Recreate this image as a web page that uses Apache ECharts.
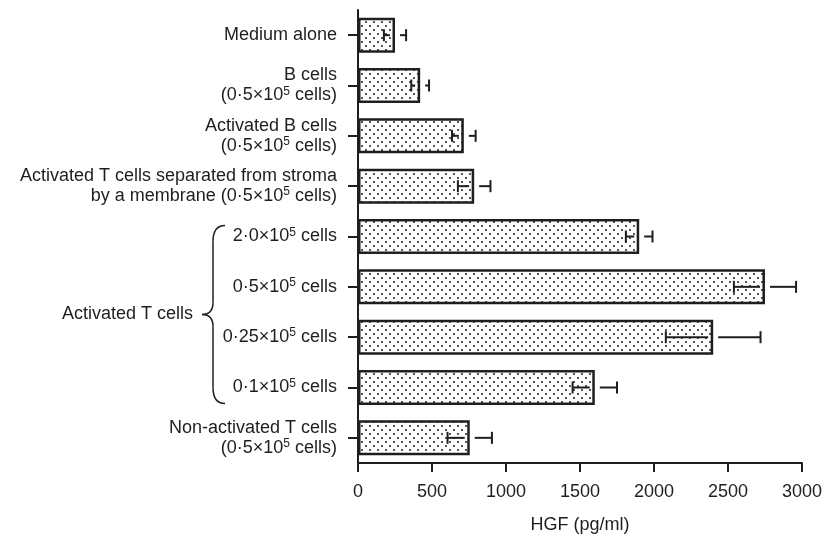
<!DOCTYPE html>
<html>
<head>
<meta charset="utf-8">
<script src="https://cdn.jsdelivr.net/npm/echarts@6/dist/echarts.min.js"></script>
<style>html,body{margin:0;padding:0;background:#fff;}#c{width:825px;height:539px;}</style>
</head>
<body>
<div id="c"></div>
<script>
const categories = [
  'Medium alone',
  'B cells\n(0·5×10{sup|5} cells)',
  'Activated B cells\n(0·5×10{sup|5} cells)',
  'Activated T cells separated from stroma\nby a membrane (0·5×10{sup|5} cells)',
  '2·0×10{sup|5} cells',
  '0·5×10{sup|5} cells',
  '0·25×10{sup|5} cells',
  '0·1×10{sup|5} cells',
  'Non-activated T cells\n(0·5×10{sup|5} cells)'
];
const hgfMean = [250, 420, 715, 785, 1900, 2750, 2400, 1600, 755];
const hgfErr  = [75, 60, 80, 110, 90, 210, 320, 150, 150];
const xTicks = { min: 0, max: 3000, interval: 500 };
const groupLabel = 'Activated T cells';
const groupFirst = 4, groupLast = 7;

// dotted pattern
const tile = document.createElement('canvas');
tile.width = 8; tile.height = 8;
const tctx = tile.getContext('2d');
tctx.fillStyle = '#ffffff';
tctx.fillRect(0, 0, 8, 8);
tctx.fillStyle = '#1e1e1e';
tctx.beginPath(); tctx.arc(2, 2, 1.0, 0, Math.PI * 2); tctx.fill();
tctx.beginPath(); tctx.arc(6, 6, 1.0, 0, Math.PI * 2); tctx.fill();

const ink = '#1e1e1e';
const chart = echarts.init(document.getElementById('c'));
const errData = hgfMean.map((v, i) => [i, v, hgfErr[i]]);

chart.setOption({
  animation: false,
  backgroundColor: '#fff',
  grid: { left: 358, right: 20, top: 10, bottom: 71 },
  xAxis: {
    type: 'value', min: xTicks.min, max: xTicks.max, interval: xTicks.interval,
    name: 'HGF (pg/ml)', nameLocation: 'middle', nameGap: 53,
    nameTextStyle: { fontFamily: 'Liberation Sans', fontSize: 18, color: ink },
    axisLine: { show: true, lineStyle: { color: ink, width: 2 } },
    axisTick: { show: true, length: 9, lineStyle: { color: ink, width: 2 } },
    axisLabel: { fontFamily: 'Liberation Sans', fontSize: 18, color: ink, margin: 20,
      formatter: function (v) { return String(v); } },
    splitLine: { show: false }
  },
  yAxis: {
    type: 'category', data: categories, inverse: true,
    axisLine: { show: true, lineStyle: { color: ink, width: 2 } },
    axisTick: { show: true, alignWithLabel: true, length: 10, lineStyle: { color: ink, width: 2 } },
    axisLabel: {
      fontFamily: 'Liberation Sans', fontSize: 18, color: ink, margin: 21,
      lineHeight: 20, align: 'right',
      rich: { sup: { fontFamily: 'Liberation Sans', fontSize: 12, lineHeight: 12, verticalAlign: 'top', color: ink } }
    }
  },
  series: [
    {
      type: 'bar', data: hgfMean, barWidth: 35,
      itemStyle: { color: { image: tile, repeat: 'repeat' }, borderColor: ink, borderWidth: 2.5 }
    },
    {
      type: 'custom', data: errData, z: 5,
      renderItem: function (params, api) {
        const i = api.value(0), v = api.value(1), e = api.value(2);
        const mid = api.coord([v, i]);
        const lo = api.coord([v - e, i]);
        const hi = api.coord([v + e, i]);
        const y = mid[1], cap = 6, gap = 5;
        const st = { stroke: ink, lineWidth: 2 };
        return { type: 'group', children: [
          { type: 'line', shape: { x1: lo[0], y1: y, x2: mid[0] - gap, y2: y }, style: st },
          { type: 'line', shape: { x1: mid[0] + gap, y1: y, x2: hi[0], y2: y }, style: st },
          { type: 'line', shape: { x1: lo[0], y1: y - cap, x2: lo[0], y2: y + cap }, style: st },
          { type: 'line', shape: { x1: hi[0], y1: y - cap, x2: hi[0], y2: y + cap }, style: st }
        ]};
      }
    }
  ]
});

// brace for grouped categories
const yTop = chart.convertToPixel({ yAxisIndex: 0 }, categories[groupFirst]) - 11;
const yBot = chart.convertToPixel({ yAxisIndex: 0 }, categories[groupLast]) + 16;
const yMid = (yTop + yBot) / 2;
const R = 225, V = 213, L = 202;
const bs = { fill: 'none', stroke: ink, lineWidth: 1.5 };
function q(x1, y1, cx, cy, x2, y2) {
  return { type: 'bezierCurve', shape: { x1: x1, y1: y1, cpx1: cx, cpy1: cy, x2: x2, y2: y2 }, style: bs };
}
function ln(x1, y1, x2, y2) {
  return { type: 'line', shape: { x1: x1, y1: y1, x2: x2, y2: y2 }, style: bs };
}
chart.setOption({
  graphic: [
    q(R, yTop, V, yTop, V, yTop + 16),
    ln(V, yTop + 16, V, yMid - 12),
    q(V, yMid - 12, V, yMid, L, yMid),
    q(L, yMid, V, yMid, V, yMid + 12),
    ln(V, yMid + 12, V, yBot - 16),
    q(V, yBot - 16, V, yBot, R, yBot),
    { type: 'text', x: 193, y: yMid, style: { text: groupLabel, fontFamily: 'Liberation Sans', fontSize: 18, fill: ink, align: 'right', verticalAlign: 'middle' } }
  ]
});
</script>
</body>
</html>
